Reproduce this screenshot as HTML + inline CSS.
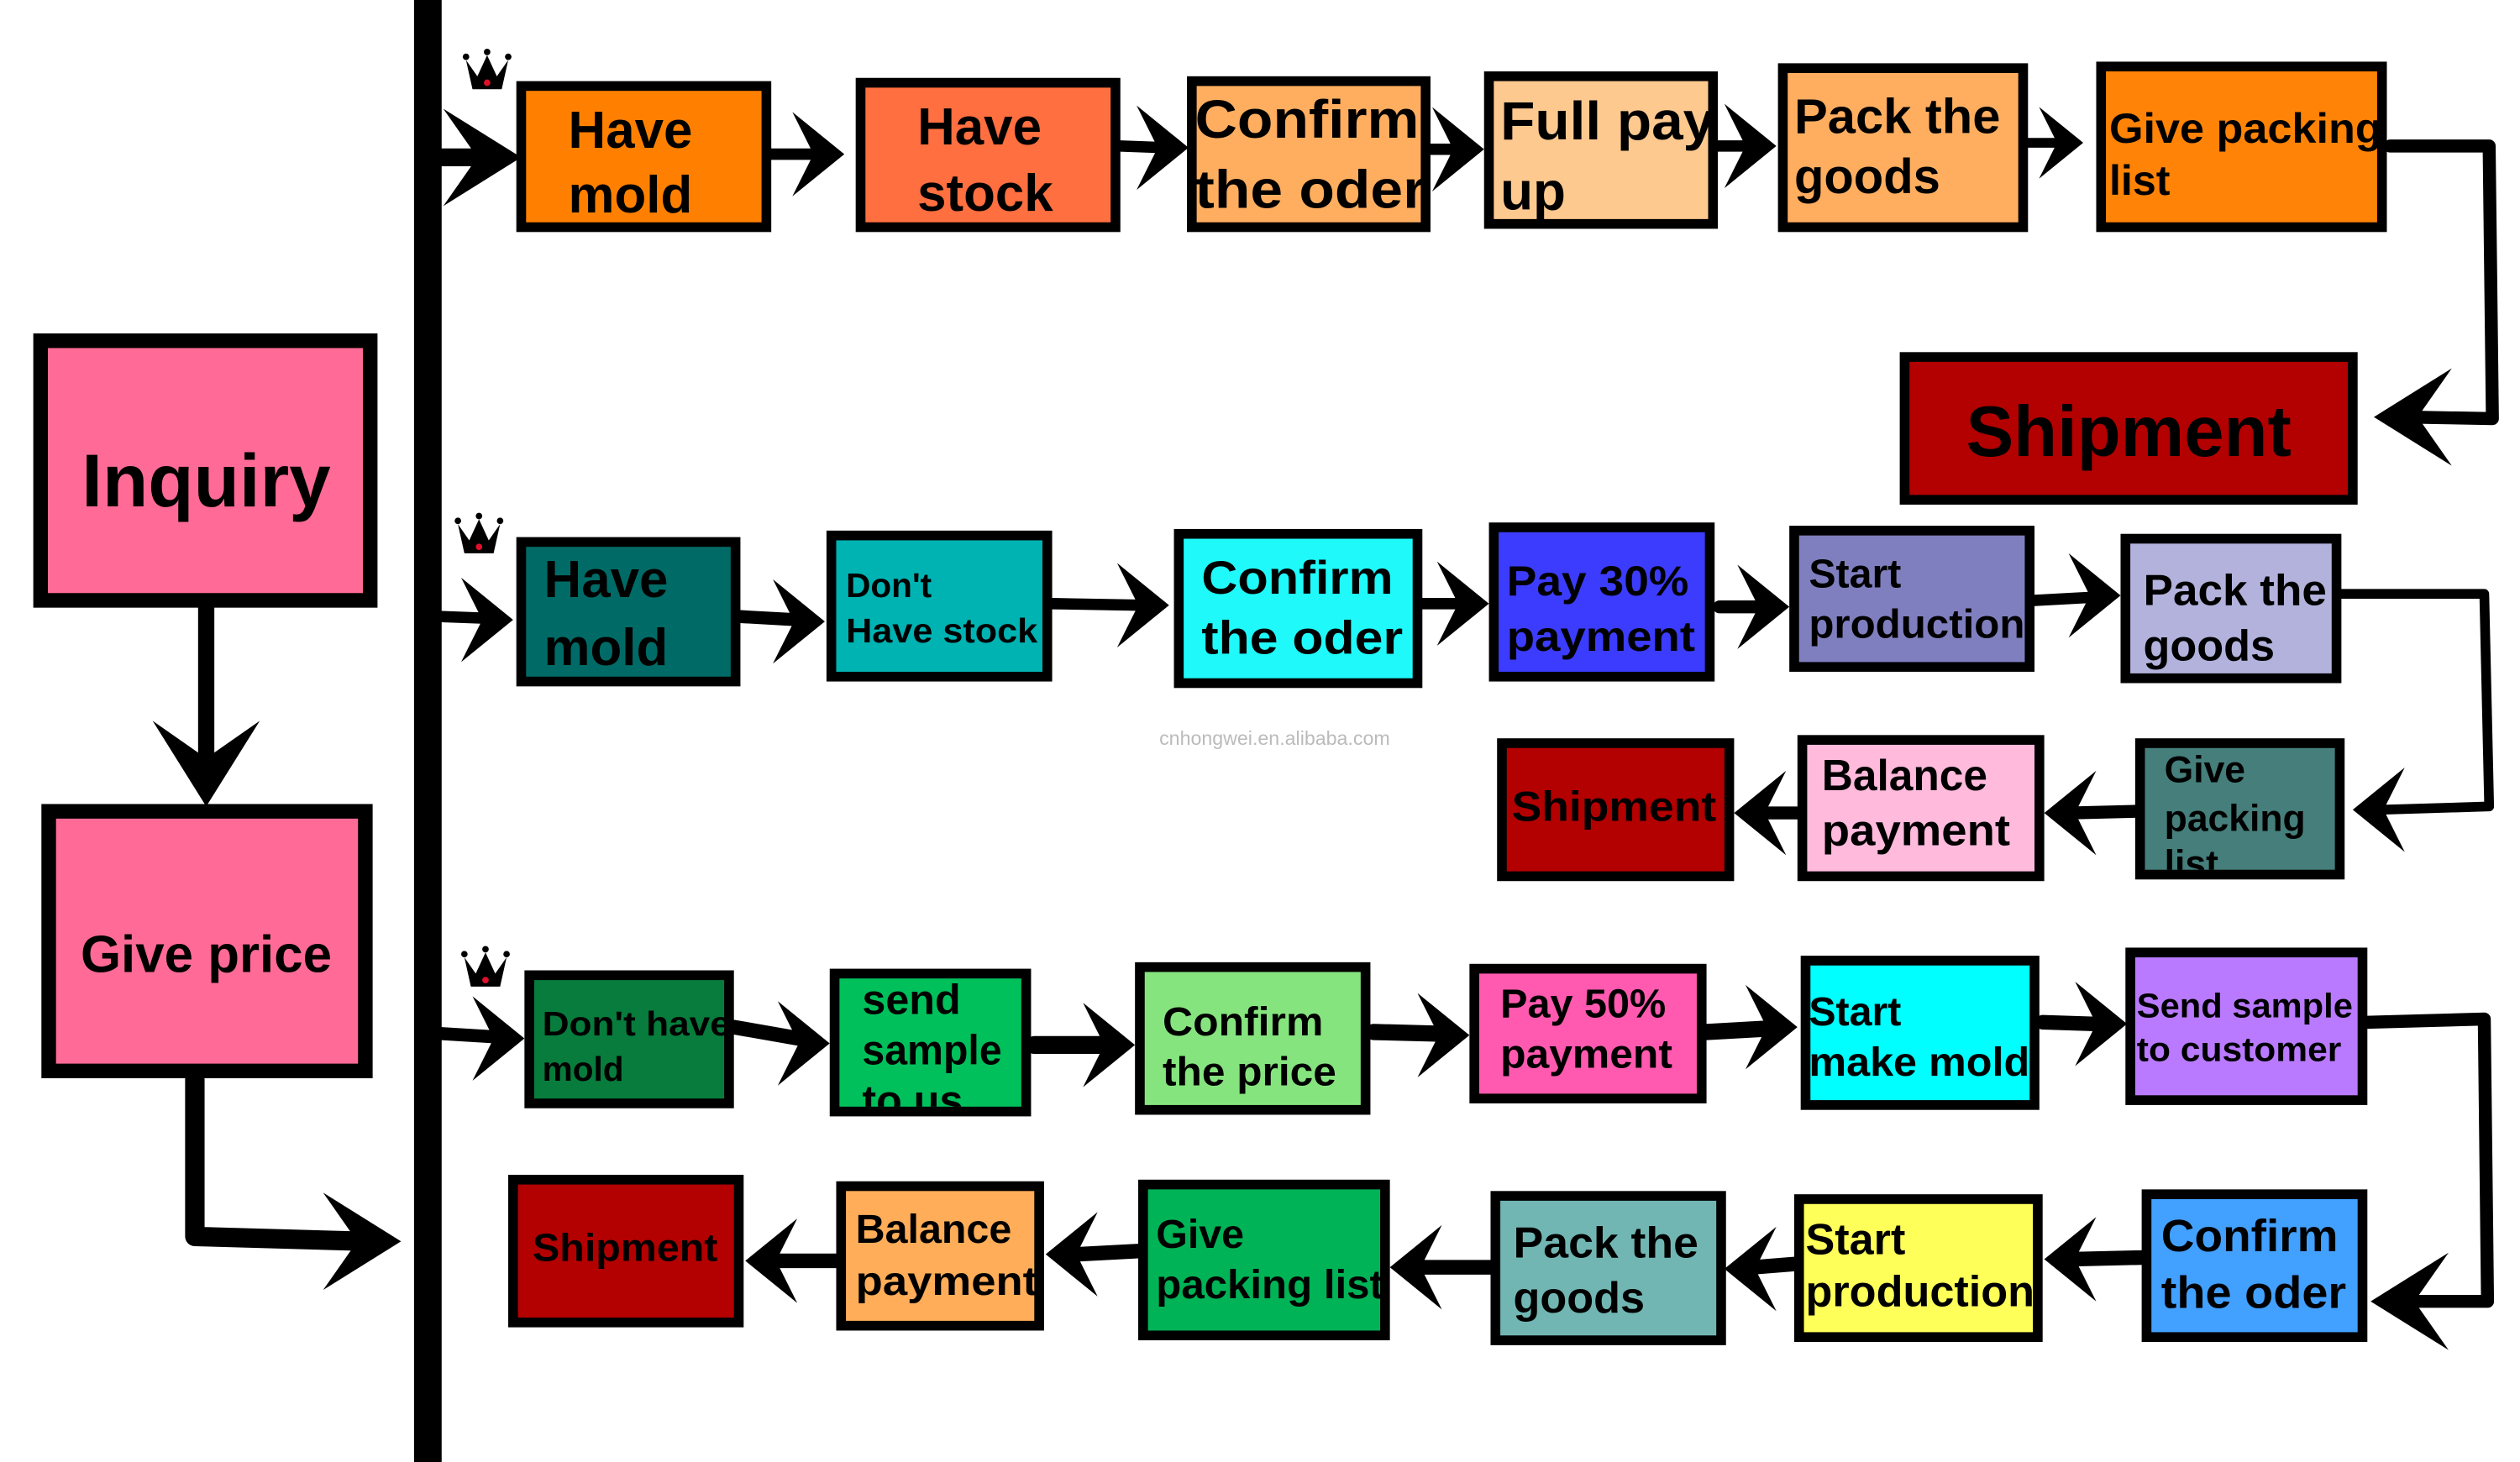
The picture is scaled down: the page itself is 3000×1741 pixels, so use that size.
<!DOCTYPE html>
<html><head><meta charset="utf-8"><style>
html,body{margin:0;padding:0;background:#fff;}
svg{display:block}
text{font-family:"Liberation Sans",sans-serif;font-weight:bold;fill:#000}
</style></head><body>
<svg width="3000" height="1741" viewBox="0 0 1552 901" preserveAspectRatio="none" xmlns="http://www.w3.org/2000/svg">
<defs>
<g id="hr"><polygon points="0,0 -32,-26 -19,0 -32,26"/></g>
<g id="hb"><polygon points="0,0 -48,-30 -27,0 -48,30"/></g>
<g id="crown"><polygon points="-13,-8 -6,2 0,-11 6,2 13,-8 9,10 -9,10"/><circle cx="-13" cy="-10" r="2"/><circle cx="0" cy="-13" r="2"/><circle cx="13" cy="-10" r="2"/><circle cx="0" cy="6" r="2" fill="#e0102a"/></g>
</defs>
<rect x="0" y="0" width="1552" height="901" fill="#fff"/>
<!-- vertical bar -->
<rect x="255" y="0" width="17" height="901" fill="#000"/>

<g stroke="#000" stroke-width="9">
<rect x="25" y="210" width="203" height="160" fill="#ff6b96"/>
<rect x="30" y="500" width="195" height="160" fill="#ff6b96"/>
</g>
<text x="127" y="312" font-size="46" text-anchor="middle">Inquiry</text>
<text x="127" y="599" font-size="32" text-anchor="middle">Give price</text>

<g stroke="#000" stroke-linecap="round" stroke-linejoin="round" fill="none">
<line x1="127" y1="372" x2="127" y2="480" stroke-width="10"/>
<polyline points="120,665 120,762 225,765" stroke-width="12"/>
<!-- row1 -->
<line x1="272" y1="97" x2="300" y2="97" stroke-width="11"/>
<line x1="475" y1="95" x2="505" y2="95" stroke-width="7"/>
<line x1="690" y1="90" x2="718" y2="91" stroke-width="7"/>
<line x1="881" y1="92" x2="900" y2="92" stroke-width="7"/>
<line x1="1058" y1="90" x2="1080" y2="90" stroke-width="7"/>
<line x1="1249" y1="88" x2="1270" y2="88" stroke-width="6"/>
<polyline points="1472,90 1533,90 1535,258 1482,257" stroke-width="8"/>
<!-- row2 -->
<line x1="272" y1="380" x2="300" y2="381" stroke-width="7"/>
<line x1="456" y1="380" x2="492" y2="382" stroke-width="8"/>
<line x1="648" y1="372" x2="704" y2="373" stroke-width="7"/>
<line x1="876" y1="372" x2="900" y2="372" stroke-width="7"/>
<line x1="1059" y1="374" x2="1085" y2="374" stroke-width="8"/>
<line x1="1253" y1="370" x2="1290" y2="368" stroke-width="7"/>
<polyline points="1442,366 1530,366 1533,497 1468,499" stroke-width="6"/>
<line x1="1315" y1="500" x2="1276" y2="501" stroke-width="8"/>
<line x1="1107" y1="501" x2="1085" y2="501" stroke-width="8"/>
<!-- row3 -->
<line x1="272" y1="637" x2="305" y2="639" stroke-width="8"/>
<line x1="452" y1="633" x2="492" y2="640" stroke-width="9"/>
<line x1="637" y1="644" x2="680" y2="644" stroke-width="11"/>
<line x1="846" y1="636" x2="885" y2="637" stroke-width="10"/>
<line x1="1051" y1="636" x2="1087" y2="634" stroke-width="10"/>
<line x1="1258" y1="630" x2="1290" y2="631" stroke-width="9"/>
<polyline points="1458,630 1530,628 1532,802 1478,802" stroke-width="8"/>
<line x1="1319" y1="775" x2="1277" y2="776" stroke-width="9"/>
<line x1="1105" y1="779" x2="1080" y2="781" stroke-width="9"/>
<line x1="918" y1="781" x2="874" y2="781" stroke-width="9"/>
<line x1="701" y1="771" x2="663" y2="773" stroke-width="9"/>
<line x1="515" y1="777" x2="478" y2="777" stroke-width="9"/>
</g>
<g fill="#000">
<use href="#hb" transform="translate(127,497) rotate(90) scale(1.1)"/>
<use href="#hb" transform="translate(247,765)"/>
<use href="#hb" transform="translate(321,97)"/>
<use href="#hr" transform="translate(520,95)"/>
<use href="#hr" transform="translate(732,91)"/>
<use href="#hr" transform="translate(914,92)"/>
<use href="#hr" transform="translate(1094,90)"/>
<use href="#hr" transform="translate(1283,88) scale(0.85)"/>
<use href="#hb" transform="translate(1462,257) rotate(180)"/>
<use href="#hr" transform="translate(316,382)"/>
<use href="#hr" transform="translate(508,383)"/>
<use href="#hr" transform="translate(720,373)"/>
<use href="#hr" transform="translate(917,372)"/>
<use href="#hr" transform="translate(1102,374)"/>
<use href="#hr" transform="translate(1306,367)"/>
<use href="#hr" transform="translate(1449,499) rotate(180)"/>
<use href="#hr" transform="translate(1259,501) rotate(180)"/>
<use href="#hr" transform="translate(1068,501) rotate(180)"/>
<use href="#hr" transform="translate(323,640)"/>
<use href="#hr" transform="translate(511,643)"/>
<use href="#hr" transform="translate(699,644)"/>
<use href="#hr" transform="translate(905,638)"/>
<use href="#hr" transform="translate(1107,633)"/>
<use href="#hr" transform="translate(1310,631)"/>
<use href="#hb" transform="translate(1460,802) rotate(180)"/>
<use href="#hr" transform="translate(1259,776) rotate(180)"/>
<use href="#hr" transform="translate(1062,782) rotate(180)"/>
<use href="#hr" transform="translate(856,781) rotate(180)"/>
<use href="#hr" transform="translate(644,773) rotate(180)"/>
<use href="#hr" transform="translate(459,777) rotate(180)"/>
</g>

<use href="#crown" transform="translate(300,45)"/>
<use href="#crown" transform="translate(295,331)"/>
<use href="#crown" transform="translate(299,598)"/>

<g stroke="#000" stroke-width="6">
<!-- row1 -->
<rect x="321" y="53" width="151" height="87" fill="#ff8000"/>
<rect x="530" y="51" width="157" height="89" fill="#ff6f3f"/>
<rect x="734" y="50" width="144" height="90" fill="#ffae60"/>
<rect x="917" y="47" width="138" height="91" fill="#fdc98f"/>
<rect x="1098" y="42" width="148" height="98" fill="#ffae60"/>
<rect x="1294" y="41" width="173" height="99" fill="#ff8307"/>
<rect x="1173" y="220" width="276" height="88" fill="#b30000"/>
<!-- row2 -->
<rect x="321" y="334" width="132" height="86" fill="#006b66"/>
<rect x="512" y="330" width="133" height="87" fill="#00b3b3"/>
<rect x="726" y="329" width="147" height="92" fill="#1ff9f9"/>
<rect x="920" y="325" width="133" height="92" fill="#3c3cff"/>
<rect x="1105" y="327" width="145" height="84" fill="#7f7fbf"/>
<rect x="1309" y="332" width="130" height="86" fill="#b2b2dc"/>
<rect x="1318" y="458" width="123" height="81" fill="#457e7a"/>
<rect x="1110" y="456" width="146" height="84" fill="#ffbadc"/>
<rect x="925" y="458" width="140" height="82" fill="#b30000"/>
<!-- row3 -->
<rect x="326" y="601" width="123" height="79" fill="#077c3c"/>
<rect x="514" y="600" width="118" height="85" fill="#00c05b"/>
<rect x="702" y="596" width="139" height="88" fill="#86e47f"/>
<rect x="908" y="597" width="140" height="80" fill="#ff5aaf"/>
<rect x="1112" y="592" width="141" height="89" fill="#00ffff"/>
<rect x="1312" y="587" width="143" height="91" fill="#b97aff"/>
<rect x="1322" y="736" width="133" height="88" fill="#42a0ff"/>
<rect x="1108" y="739" width="147" height="85" fill="#ffff59"/>
<rect x="921" y="737" width="139" height="89" fill="#71b6b3"/>
<rect x="704" y="730" width="149" height="93" fill="#00b356"/>
<rect x="518" y="731" width="122" height="86" fill="#ffad58"/>
<rect x="316" y="727" width="139" height="88" fill="#b30000"/>
</g>

<!-- row1 text -->
<text font-size="32"><tspan x="350" y="91">Have</tspan><tspan x="350" y="131">mold</tspan></text>
<text font-size="32"><tspan x="565" y="89">Have</tspan><tspan x="565" y="130">stock</tspan></text>
<text font-size="33"><tspan x="736" y="85" textLength="138" lengthAdjust="spacingAndGlyphs">Confirm</tspan><tspan x="736" y="128" textLength="142" lengthAdjust="spacingAndGlyphs">the oder</tspan></text>
<text font-size="33"><tspan x="924" y="86" textLength="132" lengthAdjust="spacingAndGlyphs">Full pay</tspan><tspan x="924" y="129">up</tspan></text>
<text font-size="30"><tspan x="1105" y="82" textLength="127" lengthAdjust="spacingAndGlyphs">Pack the</tspan><tspan x="1105" y="119">goods</tspan></text>
<text font-size="26"><tspan x="1299" y="88" textLength="168" lengthAdjust="spacingAndGlyphs">Give packing</tspan><tspan x="1299" y="120">list</tspan></text>
<text x="1311" y="281" font-size="44" text-anchor="middle">Shipment</text>
<!-- row2 text -->
<text font-size="32"><tspan x="335" y="368">Have</tspan><tspan x="335" y="410">mold</tspan></text>
<text font-size="21"><tspan x="521" y="368">Don't</tspan><tspan x="521" y="396" textLength="118" lengthAdjust="spacingAndGlyphs">Have stock</tspan></text>
<text font-size="29"><tspan x="740" y="366" textLength="118" lengthAdjust="spacingAndGlyphs">Confirm</tspan><tspan x="740" y="403" textLength="124" lengthAdjust="spacingAndGlyphs">the oder</tspan></text>
<text font-size="26" ><tspan x="928" y="367" textLength="112" lengthAdjust="spacingAndGlyphs">Pay 30%</tspan><tspan x="928" y="401" textLength="116" lengthAdjust="spacingAndGlyphs">payment</tspan></text>
<text font-size="25"><tspan x="1114" y="362">Start</tspan><tspan x="1114" y="393" textLength="133" lengthAdjust="spacingAndGlyphs">production</tspan></text>
<text font-size="27"><tspan x="1320" y="373" textLength="113" lengthAdjust="spacingAndGlyphs">Pack the</tspan><tspan x="1320" y="407">goods</tspan></text>
<svg x="1321" y="461" width="117" height="75"><text font-size="23"><tspan x="12" y="21">Give</tspan><tspan x="12" y="51">packing</tspan><tspan x="12" y="79">list</tspan></text></svg>
<text font-size="27"><tspan x="1122" y="487" textLength="102" lengthAdjust="spacingAndGlyphs">Balance</tspan><tspan x="1122" y="521" textLength="116" lengthAdjust="spacingAndGlyphs">payment</tspan></text>
<text x="931" y="506" font-size="26" textLength="126" lengthAdjust="spacingAndGlyphs">Shipment</text>
<!-- row3 text -->
<text font-size="21"><tspan x="334" y="638" textLength="116" lengthAdjust="spacingAndGlyphs">Don't have</tspan><tspan x="334" y="666">mold</tspan></text>
<svg x="517" y="603" width="112" height="79"><text font-size="26"><tspan x="14" y="22">send</tspan><tspan x="14" y="53" textLength="86" lengthAdjust="spacingAndGlyphs">sample</tspan><tspan x="14" y="84">to us</tspan></text></svg>
<text font-size="25"><tspan x="716" y="638" textLength="99" lengthAdjust="spacingAndGlyphs">Confirm</tspan><tspan x="716" y="669" textLength="107" lengthAdjust="spacingAndGlyphs">the price</tspan></text>
<text font-size="25"><tspan x="924" y="627" textLength="102" lengthAdjust="spacingAndGlyphs">Pay 50%</tspan><tspan x="924" y="658" textLength="106" lengthAdjust="spacingAndGlyphs">payment</tspan></text>
<text font-size="25"><tspan x="1114" y="632">Start</tspan><tspan x="1114" y="663" textLength="136" lengthAdjust="spacingAndGlyphs">make mold</tspan></text>
<text font-size="21"><tspan x="1316" y="627" textLength="133" lengthAdjust="spacingAndGlyphs">Send sample</tspan><tspan x="1316" y="654" textLength="126" lengthAdjust="spacingAndGlyphs">to customer</tspan></text>
<text font-size="28"><tspan x="1331" y="771" textLength="109" lengthAdjust="spacingAndGlyphs">Confirm</tspan><tspan x="1331" y="806" textLength="114" lengthAdjust="spacingAndGlyphs">the oder</tspan></text>
<text font-size="27"><tspan x="1112" y="773">Start</tspan><tspan x="1112" y="805" textLength="141" lengthAdjust="spacingAndGlyphs">production</tspan></text>
<text font-size="27"><tspan x="932" y="775" textLength="114" lengthAdjust="spacingAndGlyphs">Pack the</tspan><tspan x="932" y="809">goods</tspan></text>
<text font-size="25"><tspan x="712" y="769">Give</tspan><tspan x="712" y="800" textLength="140" lengthAdjust="spacingAndGlyphs">packing list</tspan></text>
<text font-size="25"><tspan x="527" y="766" textLength="96" lengthAdjust="spacingAndGlyphs">Balance</tspan><tspan x="527" y="798" textLength="112" lengthAdjust="spacingAndGlyphs">payment</tspan></text>
<text x="328" y="777" font-size="24" textLength="114" lengthAdjust="spacingAndGlyphs">Shipment</text>

<text x="785" y="459" font-size="12" text-anchor="middle" style="font-weight:normal;fill:#bbb">cnhongwei.en.alibaba.com</text>
</svg>
</body></html>
